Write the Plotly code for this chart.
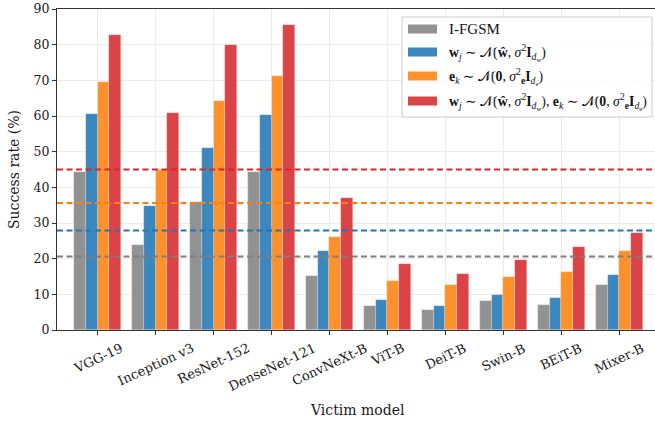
import plotly.graph_objects as go

models = ["VGG-19", "Inception v3", "ResNet-152", "DenseNet-121", "ConvNeXt-B",
          "ViT-B", "DeiT-B", "Swin-B", "BEiT-B", "Mixer-B"]
ifgsm = [44.4, 23.8, 35.9, 44.3, 15.2, 6.6, 5.5, 8.0, 7.1, 12.7]
w_noise = [60.7, 34.9, 51.1, 60.4, 22.1, 8.5, 6.6, 9.8, 9.1, 15.5]
e_noise = [69.4, 45.0, 64.1, 71.3, 26.0, 13.8, 12.5, 15.0, 16.3, 22.1]
both_noise = [82.8, 60.8, 79.8, 85.4, 36.9, 18.4, 15.6, 19.7, 23.2, 27.1]
mean_lines = [20.6, 27.9, 35.6, 45.0]  # I-FGSM, w, e, both

series_names = [
    "I-FGSM",
    "<b>w</b><i><sub>j</sub></i> ∼ 𝒩(<b>ŵ</b>, <i>σ</i><sup>2</sup><b>I</b><sub><i>d</i><sub>w</sub></sub>)",
    "<b>e</b><i><sub>k</sub></i> ∼ 𝒩(<b>0</b>, <i>σ</i><sup>2</sup><sub><b>e</b></sub><b>I</b><sub><i>d</i><sub>e</sub></sub>)",
    "<b>w</b><i><sub>j</sub></i> ∼ 𝒩(<b>ŵ</b>, <i>σ</i><sup>2</sup><b>I</b><sub><i>d</i><sub>w</sub></sub>), "
    "<b>e</b><i><sub>k</sub></i> ∼ 𝒩(<b>0</b>, <i>σ</i><sup>2</sup><sub><b>e</b></sub><b>I</b><sub><i>d</i><sub>e</sub></sub>)",
]
legend_sizes = [15, 13.8, 13.8, 13.8]
bar_colors = ["#929292", "#3d87bf", "#fe912b", "#db4446"]
line_colors = ["#7f7f7f", "#1f77b4", "#ff7f0e", "#d62728"]
series = [ifgsm, w_noise, e_noise, both_noise]

W, H = 655, 424
L, R, T, B = 57, 655, 9, 330  # plot area in px


def xp(px):
    return (px - L) / (R - L)


def yp(py):
    return (B - py) / (B - T)


fig = go.Figure()
xs = list(range(len(models)))
bw = 0.2
for i, (vals, col, name) in enumerate(zip(series, bar_colors, series_names)):
    off = (i - 1.5) * bw
    fig.add_trace(go.Bar(
        x=[x + off for x in xs], y=vals, width=bw, name=name,
        marker=dict(color=col, line=dict(width=0.6, color="rgba(255,255,255,0.35)")),
        showlegend=False,
    ))

for m, col in zip(mean_lines, line_colors):
    fig.add_shape(type="line", xref="paper", yref="y", x0=0, x1=1, y0=m, y1=m,
                  line=dict(color=col, width=2, dash="6px,3.5px"), layer="above")

serif = "DejaVu Serif, serif"
for x, lab in zip(xs, models):
    fig.add_annotation(x=x, xref="x", y=yp(338), yref="paper", text=lab,
                       textangle=-25, xanchor="center", yanchor="top", showarrow=False,
                       font=dict(family=serif, size=13, color="#1a1a1a"))

fig.add_annotation(x=xp(357), y=yp(410), xref="paper", yref="paper", text="Victim model",
                   showarrow=False, xanchor="center", yanchor="middle",
                   font=dict(family=serif, size=14, color="#1a1a1a"))
fig.add_annotation(x=xp(14), y=yp(170), xref="paper", yref="paper", text="Success rate (%)",
                   showarrow=False, textangle=-90, xanchor="center", yanchor="middle",
                   font=dict(family=serif, size=14, color="#1a1a1a"))

# legend (manual)
fig.add_shape(type="rect", xref="paper", yref="paper", x0=xp(402), x1=xp(652),
              y0=yp(117), y1=yp(17), fillcolor="rgba(255,255,255,0.85)",
              line=dict(color="#cccccc", width=1), layer="above")
leg_y = [29, 52, 76, 101]
for ly, col, name, fs in zip(leg_y, bar_colors, series_names, legend_sizes):
    fig.add_shape(type="rect", xref="paper", yref="paper", x0=xp(408), x1=xp(437),
                  y0=yp(ly + 4.5), y1=yp(ly - 4.5), fillcolor=col, line=dict(width=0),
                  layer="above")
    fig.add_annotation(x=xp(447), y=yp(ly), xref="paper", yref="paper", text=name,
                       showarrow=False, xanchor="left", yanchor="middle",
                       font=dict(family="Liberation Serif, DejaVu Serif, serif", size=fs,
                                 color="#111111"))

fig.update_layout(
    width=W, height=H, margin=dict(l=L, r=W - R, t=T, b=H - B),
    plot_bgcolor="white", paper_bgcolor="white", bargap=0,
    showlegend=False,
    xaxis=dict(range=[-0.7, 9.615], tickmode="array", tickvals=xs, showticklabels=False,
               ticks="outside", ticklen=4, tickwidth=1.2, tickcolor="#333333",
               showline=True, linecolor="#333333", linewidth=1.3, mirror=True,
               showgrid=True, gridcolor="#ebebeb", gridwidth=1, zeroline=False),
    yaxis=dict(range=[0, 90], tickmode="array", tickvals=list(range(0, 91, 10)),
               ticks="outside", ticklen=4, tickwidth=1.2, tickcolor="#333333",
               showline=True, linecolor="#333333", linewidth=1.3, mirror=False,
               showgrid=True, gridcolor="#ebebeb", gridwidth=1, zeroline=False,
               tickfont=dict(family=serif, size=12.5, color="#1a1a1a")),
)

fig.write_html("out.html")
